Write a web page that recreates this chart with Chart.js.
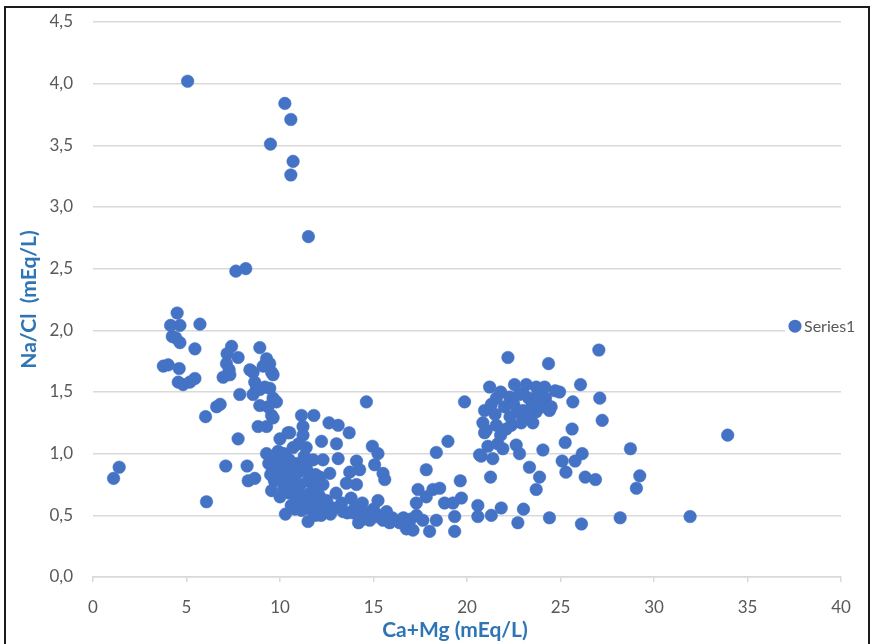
<!DOCTYPE html>
<html>
<head>
<meta charset="utf-8">
<script src="https://cdn.jsdelivr.net/npm/chart.js@4.4.1/dist/chart.umd.min.js"></script>
<style>
  html, body { margin: 0; padding: 0; background: #ffffff; }
  #wrap { position: relative; width: 883px; height: 644px; overflow: hidden; }
  #chart { position: absolute; left: 0; top: 0; }
  #frame { position: absolute; left: 4px; top: 6px; width: 866px; height: 650px;
           border: 2px solid #1b1b1b; box-sizing: border-box; pointer-events: none; }
</style>
</head>
<body>
<div id="wrap">
  <canvas id="chart" width="883" height="644"></canvas>
  <div id="frame"></div>
</div>
<script>
// Ca+Mg (mEq/L) of each sample
const caMg = [
  1.1, 1.4, 5.06, 10.26, 10.58, 9.49, 10.70, 10.58, 11.52, 7.64, 8.17,
  4.50, 4.15, 4.65, 5.72, 4.24, 4.42, 4.65, 5.45, 3.76, 4.02, 4.61, 4.56, 4.82, 5.18, 5.45, 6.02, 6.61, 6.80,
  7.41, 7.17, 7.76, 7.14, 7.28, 6.96, 7.32, 8.92, 9.28, 9.45, 8.39, 8.56, 9.10, 9.55, 9.63, 8.65, 8.74, 8.56,
  7.85, 8.92, 9.19, 9.45, 9.63, 9.81, 8.92, 9.36, 9.55, 9.63, 8.83, 9.28, 7.76, 10.43, 11.15, 11.23, 11.23,
  9.28, 10.20, 7.10, 8.24, 8.30, 8.65, 6.07, 9.55, 10.29, 11.15, 11.50,
  9.4, 9.6, 9.8, 9.9, 10.0, 10.1, 10.2, 10.3, 10.4, 10.5, 10.5, 10.6, 10.7, 10.8, 10.9, 10.9, 11.0, 11.1,
  11.2, 11.3, 11.3, 11.4, 11.5, 11.6, 11.6, 11.7, 11.8, 11.9, 12.0, 12.1, 12.2, 10.0, 10.2, 9.7, 10.6, 9.9,
  10.7, 11.0, 11.4, 10.0, 9.5, 10.3, 11.2, 11.9, 12.0, 10.8,
  11.81, 12.62, 13.11, 13.70, 12.22, 13.02, 10.52, 11.77, 12.30, 13.11, 14.09, 11.42, 12.13, 12.66, 13.73,
  14.26, 12.30, 13.55, 14.09, 12.5, 12.8, 13.0, 13.3, 13.6, 13.8, 14.0, 14.2, 14.4, 14.5, 14.62, 14.94,
  15.24, 15.06, 15.51, 15.60, 15.24, 12.2, 12.7,
  12.84, 13.37, 13.91, 14.44, 14.80, 15.16, 15.51, 15.87, 16.40, 16.76, 17.11, 17.64, 18.00, 18.36, 14.6,
  15.0, 15.3, 16.0, 16.6, 17.0, 17.3, 15.7, 14.2,
  17.38, 17.82, 18.18, 18.54, 17.29, 17.82, 18.36, 18.98, 19.87, 19.34, 19.34, 18.80, 19.25, 19.70, 20.58,
  20.58, 21.30, 21.83, 23.02, 22.72, 24.41, 19.64, 21.26, 23.34, 23.88, 23.70, 20.76, 21.12, 21.65, 21.92,
  21.38, 22.63, 22.81, 24.06, 20.67,
  20.94, 20.85, 21.03, 21.21, 22.19, 24.36, 24.72, 22.54, 23.17, 23.70, 24.15, 21.57, 22.28, 22.99, 23.97,
  24.41, 20.94, 21.57, 22.37, 23.52, 22.72, 23.70, 21.8, 22.0, 22.3, 22.5, 22.8, 23.0, 23.3, 23.5, 23.8,
  24.0, 24.2, 21.5, 21.3, 22.1, 22.9, 23.3, 21.8, 24.5, 24.95,
  27.05, 26.07, 25.66, 27.10, 27.23, 25.62, 25.25, 28.74, 26.16, 25.78, 25.09, 25.29, 26.32, 26.87, 29.24,
  29.06, 28.19, 26.12, 31.93, 33.94
];

// Na/Cl (mEq/L) of each sample, same order as caMg
const naCl = [
  0.80, 0.89, 4.02, 3.84, 3.71, 3.51, 3.37, 3.26, 2.76, 2.48, 2.50,
  2.14, 2.04, 2.04, 2.05, 1.95, 1.94, 1.90, 1.85, 1.71, 1.72, 1.69, 1.58, 1.56, 1.58, 1.61, 1.30, 1.38, 1.40,
  1.87, 1.81, 1.78, 1.73, 1.68, 1.62, 1.64, 1.86, 1.77, 1.73, 1.68, 1.66, 1.71, 1.66, 1.64, 1.58, 1.53, 1.48,
  1.48, 1.52, 1.54, 1.53, 1.45, 1.42, 1.39, 1.38, 1.31, 1.29, 1.22, 1.22, 1.12, 1.17, 1.31, 1.22, 1.15,
  1.00, 1.00, 0.90, 0.90, 0.78, 0.80, 0.61, 0.70, 0.51, 0.54, 0.45,
  0.92, 0.88, 0.95, 0.85, 0.90, 0.80, 0.93, 0.86, 0.75, 0.95, 0.68, 0.88, 0.80, 0.70, 0.92, 0.62, 0.85, 0.75,
  0.66, 0.98, 0.58, 0.88, 0.78, 0.68, 0.55, 0.62, 0.72, 0.50, 0.60, 0.66, 0.55, 0.65, 0.72, 0.78, 0.58, 1.02,
  1.05, 1.08, 1.05, 1.12, 0.83, 0.97, 0.90, 0.83, 0.74, 0.55,
  1.31, 1.25, 1.23, 1.17, 1.10, 1.08, 1.17, 0.95, 0.95, 0.96, 0.94, 0.87, 0.81, 0.84, 0.85,
  0.87, 0.75, 0.76, 0.75, 0.62, 0.55, 0.68, 0.60, 0.52, 0.64, 0.56, 0.50, 0.60, 0.47, 1.42, 1.06,
  1.00, 0.91, 0.84, 0.79, 0.62, 0.50, 0.51,
  0.56, 0.53, 0.52, 0.49, 0.46, 0.49, 0.46, 0.44, 0.44, 0.39, 0.38, 0.46, 0.37, 0.46, 0.52,
  0.55, 0.50, 0.48, 0.48, 0.47, 0.50, 0.53, 0.44,
  0.71, 0.65, 0.71, 0.72, 0.60, 0.87, 1.01, 1.10, 1.42, 0.49, 0.37, 0.60, 0.60, 0.64, 0.58,
  0.49, 0.50, 0.56, 0.55, 0.44, 0.48, 0.78, 0.81, 0.89, 0.81, 0.71, 0.98, 1.06, 1.08, 1.04,
  0.96, 1.07, 1.00, 1.03, 0.99,
  1.35, 1.25, 1.19, 1.54, 1.78, 1.73, 1.51, 1.56, 1.56, 1.54, 1.54, 1.45, 1.46, 1.49, 1.42,
  1.35, 1.17, 1.23, 1.23, 1.25, 1.34, 1.34, 1.50, 1.38, 1.30, 1.40, 1.48, 1.35, 1.45, 1.40, 1.48,
  1.38, 1.45, 1.32, 1.40, 1.20, 1.25, 1.30, 1.15, 1.38, 1.50,
  1.84, 1.56, 1.42, 1.45, 1.27, 1.20, 1.09, 1.04, 1.00, 0.94, 0.94, 0.85, 0.81, 0.79, 0.82,
  0.72, 0.48, 0.43, 0.49, 1.15
];

// axis ranges and tick steps
const xTickValues = [0, 5, 10, 15, 20, 25, 30, 35, 40];
const yTickValues = [0, 0.5, 1, 1.5, 2, 2.5, 3, 3.5, 4, 4.5];

const seriesName = 'Series1';
const xTitle = 'Ca+Mg (mEq/L)';
const yTitle = 'Na/Cl  (mEq/L)';

const markerColor = '#4472C4';
const titleColor = '#2E75B6';
const tickColor = '#595959';
const gridColor = '#D9D9D9';
const fontFamily = 'Lato, "Open Sans", sans-serif';
const titleFont = 'bold 21px ' + fontFamily;

const points = caMg.map((x, i) => ({ x: x, y: naCl[i] }));

// Legend drawn over the plot area on a white box, to the right of the data,
// and the horizontal axis title placed a little left of the plot centre
const overlayText = {
  id: 'overlayText',
  afterDraw(chart) {
    const ctx = chart.ctx;
    const ds = chart.data.datasets[0];
    const area = chart.chartArea;
    const cy = area.top + (area.bottom - area.top) * 0.548;
    const mx = area.right - 46;
    ctx.save();
    ctx.font = '16px ' + fontFamily;
    const tw = ctx.measureText(ds.label).width;
    ctx.fillStyle = '#ffffff';
    ctx.fillRect(mx - 10, cy - 11, tw + 26, 22);
    ctx.beginPath();
    ctx.arc(mx, cy, 6.5, 0, Math.PI * 2);
    ctx.fillStyle = ds.backgroundColor;
    ctx.fill();
    ctx.fillStyle = tickColor;
    ctx.textBaseline = 'middle';
    ctx.textAlign = 'left';
    ctx.fillText(ds.label, mx + 9, cy + 1);

    ctx.font = titleFont;
    ctx.fillStyle = titleColor;
    ctx.textAlign = 'center';
    ctx.fillText(xTitle, (area.left + area.right) / 2 - 12, 630);
    ctx.restore();
  }
};

new Chart(document.getElementById('chart'), {
  type: 'scatter',
  data: {
    datasets: [{
      label: seriesName,
      data: points,
      backgroundColor: markerColor,
      borderColor: markerColor,
      borderWidth: 0.5,
      pointRadius: 6.3,
      pointHoverRadius: 6.3
    }]
  },
  options: {
    responsive: false,
    animation: false,
    events: [],
    layout: { padding: { left: 8, right: 42, top: 22, bottom: 0 } },
    plugins: {
      legend: { display: false },
      tooltip: { enabled: false }
    },
    scales: {
      x: {
        type: 'linear',
        min: xTickValues[0],
        max: xTickValues[xTickValues.length - 1],
        afterBuildTicks(scale) { scale.ticks = xTickValues.map(v => ({ value: v })); },
        afterFit(scale) { scale.height = 67; },
        grid: { drawOnChartArea: false, drawTicks: true, tickLength: 5, color: gridColor, lineWidth: 1.5 },
        border: { display: true, color: gridColor, width: 1.5 },
        ticks: { color: tickColor, padding: 15, maxRotation: 0, font: { family: fontFamily, size: 17 } },
        title: { display: false, text: xTitle }
      },
      y: {
        type: 'linear',
        min: yTickValues[0],
        max: yTickValues[yTickValues.length - 1],
        afterBuildTicks(scale) { scale.ticks = yTickValues.map(v => ({ value: v })); },
        afterFit(scale) { scale.width = 85; },
        grid: { drawTicks: true, tickLength: 20, tickColor: 'rgba(0,0,0,0)', color: gridColor, lineWidth: 1.5 },
        border: { display: false },
        ticks: {
          color: tickColor, padding: 0,
          font: { family: fontFamily, size: 17 },
          callback: v => v.toFixed(1).replace('.', ',')
        },
        title: { display: true, text: yTitle, color: titleColor,
                 padding: { top: 9, bottom: 0 },
                 font: { family: fontFamily, size: 21, weight: 'bold' } }
      }
    }
  },
  plugins: [overlayText]
});
</script>
</body>
</html>
